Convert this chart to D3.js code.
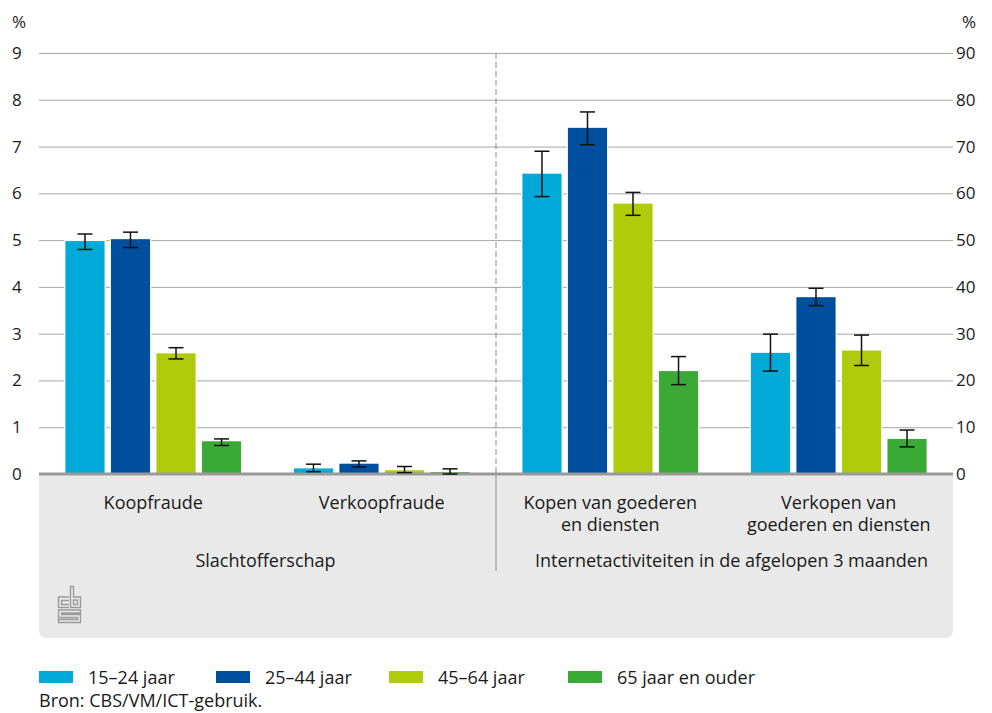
<!DOCTYPE html>
<html>
<head>
<meta charset="utf-8">
<script src="https://cdn.jsdelivr.net/npm/d3@7"></script>
<style>
  body { margin: 0; background: #fff; }
  text { font-family: "Open Sans", "Noto Sans", sans-serif; fill: #1a1a1a; }
</style>
</head>
<body>
<div class="canvas"></div>
<script>
// data
const categories = ['Koopfraude', 'Verkoopfraude', 'Kopen van goederen en diensten', 'Verkopen van goederen en diensten'];
const categoryLines = [['Koopfraude'], ['Verkoopfraude'], ['Kopen van goederen', 'en diensten'], ['Verkopen van', 'goederen en diensten']];
const groupLabels = ['Slachtofferschap', 'Internetactiviteiten in de afgelopen 3 maanden'];
const series = ['15–24 jaar', '25–44 jaar', '45–64 jaar', '65 jaar en ouder'];

// per series, one value per category (first two on the left axis, last two on the right axis)
const v1524 = [4.98, 0.12, 64.2, 25.9];
const v2544 = [5.02, 0.22, 74.0, 37.8];
const v4564 = [2.58, 0.08, 57.8, 26.4];
const v65plus = [0.70, 0.04, 22.0, 7.5];

const lo1524 = [4.80, 0.05, 59.3, 22.0];
const lo2544 = [4.84, 0.15, 70.4, 36.0];
const lo4564 = [2.46, 0.03, 55.3, 23.2];
const lo65plus = [0.61, 0.00, 19.1, 5.8];

const hi1524 = [5.13, 0.21, 69.0, 29.9];
const hi2544 = [5.17, 0.28, 77.4, 39.7];
const hi4564 = [2.70, 0.16, 60.2, 29.7];
const hi65plus = [0.75, 0.11, 25.1, 9.4];

const leftTicks = [0, 1, 2, 3, 4, 5, 6, 7, 8, 9];
const rightTicks = [0, 10, 20, 30, 40, 50, 60, 70, 80, 90];

const colors = ['#00a9d8', '#004f9e', '#b0cb0b', '#3ba935'];

const values = [v1524, v2544, v4564, v65plus];
const lows = [lo1524, lo2544, lo4564, lo65plus];
const highs = [hi1524, hi2544, hi4564, hi65plus];


const W = 992, H = 713;
const plotLeft = 39, plotRight = 953, plotTop = 53, base = 474;
const labelSize = '18px', tickSize = '17px';

const svg = d3.select('.canvas').append('svg')
    .attr('width', W)
    .attr('height', H);

// scales
const x0 = d3.scaleBand().domain(categories).range([plotLeft, plotRight]);
const x1 = d3.scaleBand().domain(series).range([0, x0.bandwidth()])
    .paddingInner(0.14).paddingOuter(0.58);
const yL = d3.scaleLinear().domain([0, 9]).range([base, plotTop]);
const yR = d3.scaleLinear().domain([0, 90]).range([base, plotTop]);
const yFor = i => (i < 2 ? yL : yR);

// grey band under the axis
const bandBottom = 638, r = 8;
svg.append('path')
    .attr('d', `M${plotLeft},${base} H${plotRight} V${bandBottom - r} Q${plotRight},${bandBottom} ${plotRight - r},${bandBottom} H${plotLeft + r} Q${plotLeft},${bandBottom} ${plotLeft},${bandBottom - r} Z`)
    .attr('fill', '#e9e9e9');

// gridlines
svg.append('g')
    .selectAll('line')
    .data(leftTicks.slice(1))
    .join('line')
    .attr('x1', plotLeft).attr('x2', plotRight)
    .attr('y1', d => yL(d) + 0.5).attr('y2', d => yL(d) + 0.5)
    .attr('stroke', '#a6a6a6')
    .attr('stroke-width', 1);

// left axis labels
svg.append('g')
    .selectAll('text')
    .data(leftTicks)
    .join('text')
    .attr('x', 12)
    .attr('y', d => yL(d))
    .attr('dy', '0.35em')
    .style('font-size', tickSize)
    .text(d => d);

// right axis labels
svg.append('g')
    .selectAll('text')
    .data(rightTicks)
    .join('text')
    .attr('x', 956)
    .attr('y', d => yR(d))
    .attr('dy', '0.35em')
    .style('font-size', tickSize)
    .text(d => d);

svg.append('text').attr('x', 12).attr('y', 28).style('font-size', tickSize).text('%');
svg.append('text').attr('x', 962).attr('y', 28).style('font-size', tickSize).text('%');

// separator between the two blocks
const sepX = x0(categories[2]);
svg.append('line')
    .attr('x1', sepX).attr('x2', sepX)
    .attr('y1', plotTop).attr('y2', base)
    .attr('stroke', '#8c8c8c')
    .attr('stroke-dasharray', '6,3');
svg.append('line')
    .attr('x1', sepX).attr('x2', sepX)
    .attr('y1', base).attr('y2', 571)
    .attr('stroke', '#8c8c8c');

// BARS
const cells = [];
series.forEach((s, si) => {
    categories.forEach((c, ci) => {
        cells.push({ s, si, c, ci, v: values[si][ci], lo: lows[si][ci], hi: highs[si][ci] });
    });
});

svg.append('g')
    .selectAll('rect')
    .data(cells)
    .join('rect')
    .attr('x', d => x0(d.c) + x1(d.s))
    .attr('y', d => yFor(d.ci)(d.v))
    .attr('width', x1.bandwidth())
    .attr('height', d => base - yFor(d.ci)(d.v))
    .attr('fill', d => colors[d.si])
    .attr('stroke', '#fff')
    .attr('stroke-width', 2.5)
    .attr('paint-order', 'stroke');

// baseline
svg.append('line')
    .attr('x1', plotLeft).attr('x2', plotRight)
    .attr('y1', base).attr('y2', base)
    .attr('stroke', '#999')
    .attr('stroke-width', 3);

// error bars
const eb = svg.append('g').attr('stroke', '#111').attr('stroke-width', 1.5);
cells.forEach(d => {
    const cx = x0(d.c) + x1(d.s) + x1.bandwidth() / 2;
    const y = yFor(d.ci);
    eb.append('line').attr('x1', cx).attr('x2', cx).attr('y1', y(d.lo)).attr('y2', y(d.hi));
    eb.append('line').attr('x1', cx - 7.5).attr('x2', cx + 7.5).attr('y1', y(d.lo)).attr('y2', y(d.lo));
    eb.append('line').attr('x1', cx - 7.5).attr('x2', cx + 7.5).attr('y1', y(d.hi)).attr('y2', y(d.hi));
});

// category labels
categories.forEach((c, i) => {
    const t = svg.append('text')
        .attr('x', x0(c) + x0.bandwidth() / 2)
        .attr('y', 509)
        .attr('text-anchor', 'middle')
        .style('font-size', labelSize);
    categoryLines[i].forEach((line, li) => {
        t.append('tspan')
            .attr('x', x0(c) + x0.bandwidth() / 2)
            .attr('dy', li === 0 ? 0 : 22)
            .text(line);
    });
});

// group labels
groupLabels.forEach((g, i) => {
    const a = x0(categories[i * 2]);
    const b = x0(categories[i * 2 + 1]) + x0.bandwidth();
    svg.append('text')
        .attr('x', (a + b) / 2 + (i === 0 ? -2 : 7))
        .attr('y', 567)
        .attr('text-anchor', 'middle')
        .style('font-size', labelSize)
        .text(g);
});

// cbs logo
const logo = svg.append('g')
    .attr('transform', 'translate(58,586)')
    .attr('fill', 'none')
    .attr('stroke', '#9a9a9a')
    .attr('stroke-width', 1.4);
logo.append('path').attr('d', 'M11,11 H0.5 V21.5 H11 M11,14.5 H3.5 V18.5 H11');
logo.append('path').attr('d', 'M12.5,21.5 V0.5 H15.5 V11 H22.5 V21.5 Z M15.5,14 H19.5 V18.5 H15.5 Z');
logo.append('path').attr('d', 'M22.5,24 H0.5 V31.5 H19.5 V33.5 H0.5 V36.5 H22.5 V28.5 H3.5 V27 H22.5 Z');

// legend
const legendX = [39, 216, 389, 568];
const legend = svg.append('g');
series.forEach((s, i) => {
    legend.append('rect')
        .attr('x', legendX[i])
        .attr('y', 671)
        .attr('width', 34)
        .attr('height', 12)
        .attr('fill', colors[i]);
    legend.append('text')
        .attr('x', legendX[i] + 49)
        .attr('y', 684)
        .style('font-size', labelSize)
        .text(s);
});

svg.append('text')
    .attr('x', 39)
    .attr('y', 707)
    .style('font-size', labelSize)
    .text('Bron: CBS/VM/ICT-gebruik.');
</script>
</body>
</html>
